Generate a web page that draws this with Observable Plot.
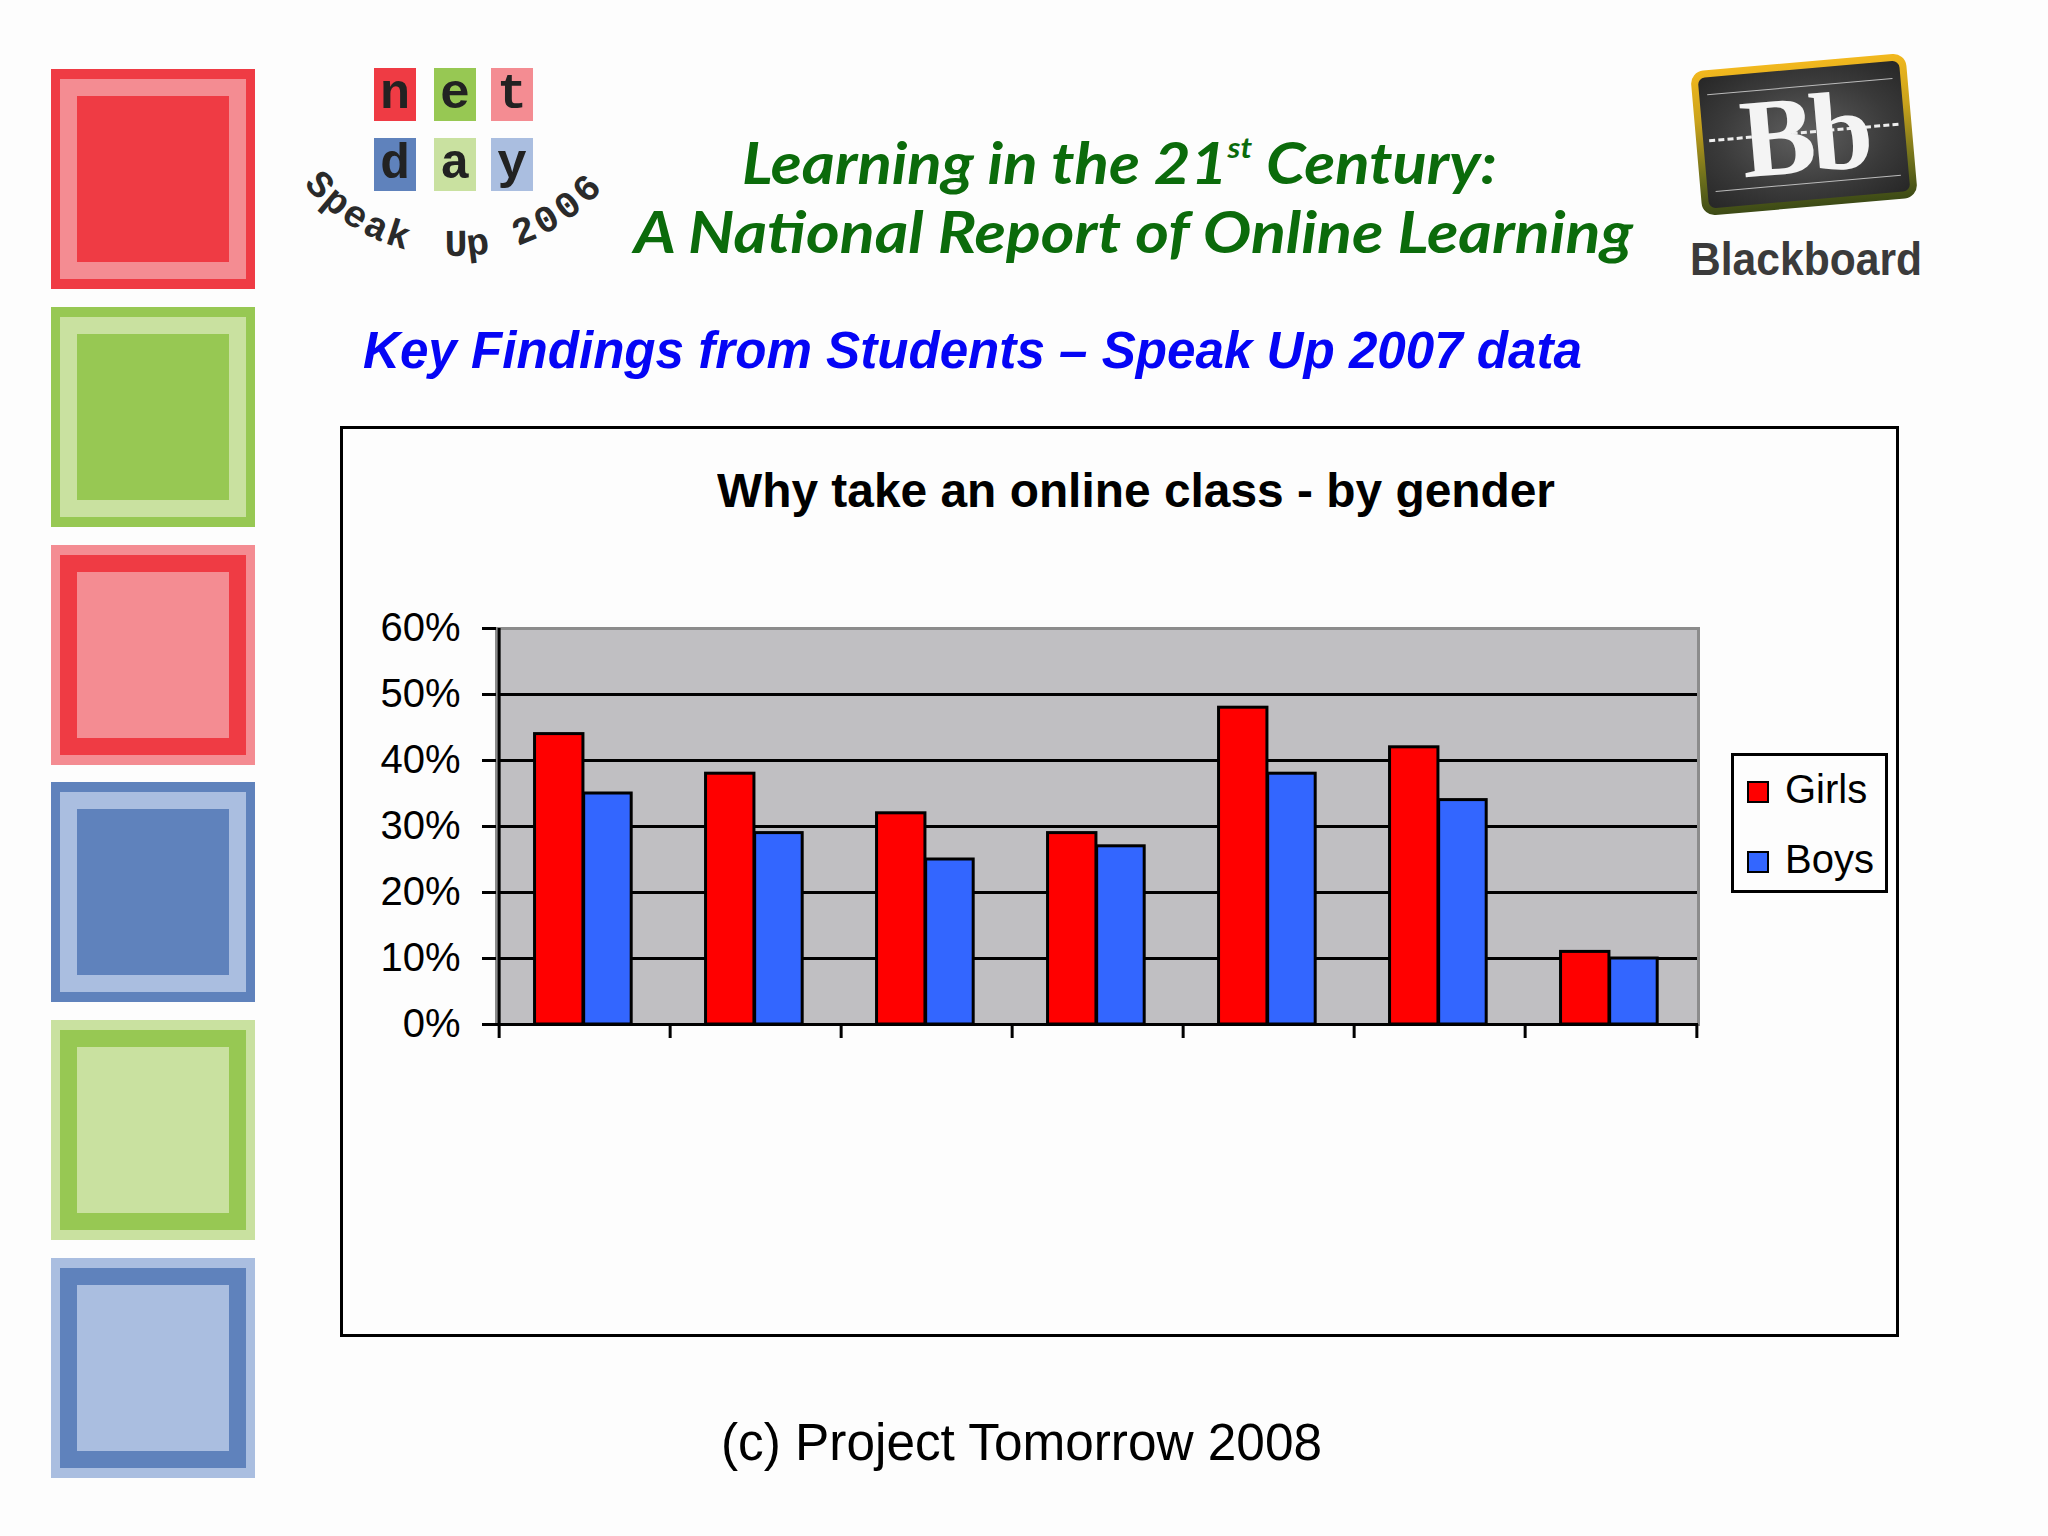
<!DOCTYPE html>
<html>
<head>
<meta charset="utf-8">
<script src="https://cdn.jsdelivr.net/npm/d3@7"></script>
<script src="https://cdn.jsdelivr.net/npm/@observablehq/plot@0.6"></script>
<style>
  html, body { margin: 0; padding: 0; }
  body { width: 2048px; height: 1536px; background: #fdfdfd; position: relative; overflow: hidden;
         font-family: "Liberation Sans", Arial, sans-serif; }
  .abs { position: absolute; }
  .sq { position: absolute; box-sizing: border-box; }
  .tile { position: absolute; width: 42px; height: 53px; text-align: center;
          font: bold 50px/53px "Liberation Mono", "DejaVu Sans Mono", monospace; color: #222; }
</style>
</head>
<body>
<script>
// ---------------- data ----------------
const categories = ["Reason 1", "Reason 2", "Reason 3", "Reason 4", "Reason 5", "Reason 6", "Reason 7"];
const seriesNames = ["Girls", "Boys"];
const girlsValues = [44, 38, 32, 29, 48, 42, 11];
const boysValues = [35, 29, 25, 27, 38, 34, 10];
const yTickValues = [0, 10, 20, 30, 40, 50, 60];
const seriesColors = ["#ff0000", "#3366ff"];

const chartTitle = "Why take an online class - by gender";
const headerLine1 = 'Learning in the 21<sup style="font-size:0.5em;vertical-align:0.9em;line-height:0">st</sup> Century:';
const headerLine2 = "A National Report of Online Learning";
const subtitle = "Key Findings from Students \u2013 Speak Up 2007 data";
const caption = "(c) Project Tomorrow 2008";
const logoWords = ["Speak", "Up", "2006"];

// ---------------- helpers ----------------
function placeText(html, { x, anchor = "start", baseline, font, color = "#000", width }) {
  const d = document.createElement("div");
  d.style.cssText = `position:absolute;left:0;top:0;white-space:nowrap;font:${font};color:${color};line-height:1.2;`;
  d.innerHTML = html + '<span class="bl" style="display:inline-block;width:0;height:0;vertical-align:baseline"></span>';
  document.body.appendChild(d);
  const r = d.getBoundingClientRect();
  const bl = d.querySelector(".bl").getBoundingClientRect().top - r.top;
  const sx = width ? width / r.width : 1;
  const w = r.width * sx;
  const left = anchor === "start" ? x : anchor === "middle" ? x - w / 2 : x - w;
  d.style.left = left + "px";
  d.style.top = (baseline - bl) + "px";
  if (sx !== 1) { d.style.transformOrigin = "0 0"; d.style.transform = `scaleX(${sx})`; }
  return d;
}

// ---------------- decorative squares (left) ----------------
const sqColors = [
  ["#ef3b44", "#f48c92"], ["#97c853", "#c9e1a0"], ["#f48c92", "#ef3b44"],
  ["#5f82bc", "#aabee0"], ["#c9e1a0", "#97c853"], ["#aabee0", "#5f82bc"]
];
sqColors.forEach(([a, b], i) => {
  const top = 69 + i * 237.8;
  const o = document.createElement("div");
  o.className = "sq";
  o.style.cssText += `left:51px;top:${top}px;width:204px;height:220px;background:${a};`;
  const m = document.createElement("div");
  m.className = "sq";
  m.style.cssText += `left:9px;top:10px;right:9px;bottom:10px;background:${b};`;
  const n = document.createElement("div");
  n.className = "sq";
  n.style.cssText += `left:17px;top:17px;right:17px;bottom:17px;background:${a};`;
  m.appendChild(n); o.appendChild(m); document.body.appendChild(o);
});

// ---------------- net day logo ----------------
const tiles = [
  ["n", 374, 68, "#ef3b44"], ["e", 434, 68, "#97c853"], ["t", 491, 68, "#f48c92"],
  ["d", 374, 138, "#5f82bc"], ["a", 434, 138, "#c9e1a0"], ["y", 491, 138, "#aabee0"]
];
tiles.forEach(([ch, x, y, c]) => {
  const t = document.createElement("div");
  t.className = "tile";
  t.style.left = x + "px"; t.style.top = y + "px"; t.style.background = c;
  t.textContent = ch;
  document.body.appendChild(t);
});
{
  const NS = "http://www.w3.org/2000/svg";
  const svg = document.createElementNS(NS, "svg");
  svg.setAttribute("class", "abs");
  svg.setAttribute("width", 700); svg.setAttribute("height", 320);
  svg.style.left = "0px"; svg.style.top = "0px";
  document.body.appendChild(svg);
  const path = document.createElementNS(NS, "path");
  path.setAttribute("d", "M 302.7 183.3 A 196 196 0 0 0 613.6 175.2");
  path.setAttribute("fill", "none");
  svg.appendChild(path);
  const spans = [[0, 126], [164, 46], [236, 108]]; // [start, length] along arc
  logoWords.forEach((w, wi) => {
    const [s, len] = spans[wi];
    const step = len / w.length;
    [...w].forEach((ch, ci) => {
      const o = s + (ci + 0.5) * step;
      const p = path.getPointAtLength(o);
      const q = path.getPointAtLength(Math.min(o + 1, path.getTotalLength()));
      const ang = Math.atan2(q.y - p.y, q.x - p.x) * 180 / Math.PI;
      const t = document.createElementNS(NS, "text");
      t.setAttribute("transform", `translate(${p.x},${p.y}) rotate(${ang})`);
      t.setAttribute("text-anchor", "middle");
      t.setAttribute("font-family", "Liberation Mono, monospace");
      t.setAttribute("font-weight", "bold");
      t.setAttribute("font-size", "38");
      t.setAttribute("fill", "#2a2a2a");
      t.textContent = ch;
      svg.appendChild(t);
    });
  });
}

// ---------------- Blackboard logo ----------------
document.body.insertAdjacentHTML("beforeend", `
<div class="abs" style="left:1696px;top:62px;width:216px;height:145px;transform:rotate(-5deg);border-radius:13px;
     background:linear-gradient(#f2b81e,#c9a21c 35%,#6b6e1c 75%,#3c4a16);padding:7px;box-sizing:border-box;">
  <div style="position:relative;width:100%;height:100%;border-radius:7px;
       background:radial-gradient(ellipse at 50% 50%, #606060, #3a3a3a 60%, #262626);">
    <div style="position:absolute;left:8px;right:8px;top:17px;height:1px;background:#bbb;"></div>
    <div style="position:absolute;left:8px;right:8px;bottom:16px;height:1px;background:#bbb;"></div>
    <div style="position:absolute;left:6px;right:6px;top:62px;height:0;border-top:3px dashed #eee;"></div>
    <div style="position:absolute;left:0;right:0;top:0;height:131px;text-align:center;color:#f4f4f4;
         font:bold 112px/131px 'Liberation Serif','DejaVu Serif',serif;letter-spacing:-5px;">Bb</div>
  </div>
</div>`);
placeText("Blackboard", { x: 1690, baseline: 275, font: "bold 46px 'Liberation Sans', Arial, sans-serif", color: "#3b3b3b", width: 232 });

// ---------------- headings ----------------
placeText(headerLine1, { x: 742, baseline: 184, font: "italic bold 57px Lato, 'Liberation Sans', sans-serif", color: "#0b6b0b", width: 755 });
placeText(headerLine2, { x: 634, baseline: 253, font: "italic bold 57px Lato, 'Liberation Sans', sans-serif", color: "#0b6b0b", width: 999 });
placeText(subtitle, { x: 363, baseline: 368, font: "italic bold 51px 'Liberation Sans', Arial, sans-serif", color: "#0505f5", width: 1219 });

// ---------------- chart ----------------
const box = document.createElement("div");
box.style.cssText = "position:absolute;left:340px;top:426px;width:1559px;height:911px;border:3px solid #000;box-sizing:border-box;background:#fdfdfd;";
document.body.appendChild(box);

const W = 1553, H = 905, ML = 153, MR = 198, MT = 199, MB = 310;
const bw = (W - ML - MR) / categories.length;
const rows = categories.flatMap((c, i) => [
  { category: c, series: seriesNames[0], value: girlsValues[i] },
  { category: c, series: seriesNames[1], value: boysValues[i] }
]);
const barStyle = { x: "category", y: "value", fill: "series", stroke: "#000", strokeWidth: 3 };

const chart = Plot.plot({
  width: W, height: H,
  marginLeft: ML, marginRight: MR, marginTop: MT, marginBottom: MB,
  style: { fontFamily: "'Liberation Sans', Arial, sans-serif", fontSize: "40px", color: "#000", background: "transparent", overflow: "visible" },
  x: { type: "band", domain: categories, padding: 0 },
  y: { domain: [0, 60] },
  color: { domain: seriesNames, range: seriesColors },
  marks: [
    Plot.frame({ fill: "#c0bfc2" }),
    Plot.ruleY(yTickValues.filter(v => v > 0 && v < 60), { stroke: "#000", strokeWidth: 3 }),
    Plot.frame({ stroke: "#8c8c8c", strokeWidth: 3 }),
    Plot.barY(rows.filter(d => d.series === seriesNames[0]), { ...barStyle, insetLeft: bw * 0.207, insetRight: bw * (1 - 0.493) }),
    Plot.barY(rows.filter(d => d.series === seriesNames[1]), { ...barStyle, insetLeft: bw * 0.493, insetRight: bw * (1 - 0.774) }),
    Plot.ruleY([0], { stroke: "#000", strokeWidth: 3 }),
    Plot.ruleX([categories[0]], { y1: 0, y2: 60, dx: -bw / 2, stroke: "#000", strokeWidth: 3 }),
    Plot.axisX(categories, { tickSize: 14, tickFormat: () => "", dx: -bw / 2, strokeWidth: 3, label: null }),
    Plot.axisX([categories[categories.length - 1]], { tickSize: 14, tickFormat: () => "", dx: bw / 2, strokeWidth: 3, label: null }),
    Plot.axisY(yTickValues, { tickSize: 14, tickPadding: 22, tickFormat: d => d + "%", fontSize: 40, strokeWidth: 3, label: null })
  ]
});
box.appendChild(chart);

placeText(chartTitle, { x: 1136, anchor: "middle", baseline: 507, font: "bold 48px 'Liberation Sans', Arial, sans-serif", width: 838 });

// ---------------- legend ----------------
const colorScale = chart.scale("color");
const lg = document.createElement("div");
lg.style.cssText = "position:absolute;left:1731px;top:753px;width:157px;height:140px;border:3px solid #000;box-sizing:border-box;background:#fdfdfd;";
document.body.appendChild(lg);
const legendBaselines = [803, 873];
seriesNames.forEach((name, i) => {
  const sw = document.createElement("div");
  sw.style.cssText = `position:absolute;left:1747px;top:${legendBaselines[i] - 22}px;width:22px;height:22px;box-sizing:border-box;border:2.5px solid #000;background:${colorScale.apply(name)};`;
  document.body.appendChild(sw);
  placeText(name, { x: 1785, baseline: legendBaselines[i], font: "40px 'Liberation Sans', Arial, sans-serif" });
});

// ---------------- caption ----------------
placeText(caption, { x: 1021.5, anchor: "middle", baseline: 1460, font: "51px 'Liberation Sans', Arial, sans-serif", width: 601 });
</script>
</body>
</html>
